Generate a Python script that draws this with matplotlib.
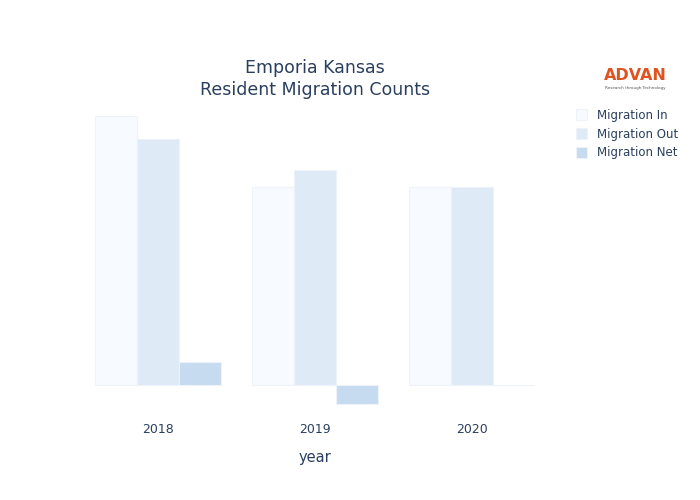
import matplotlib
matplotlib.use("Agg")
import matplotlib.pyplot as plt
import numpy as np

years = ["2018", "2019", "2020"]
migration_in = [269, 198, 198]
migration_out = [246, 215, 198]
migration_net = [23, -19, 0]

series = [
    ("Migration In", migration_in, "#f7fbff"),
    ("Migration Out", migration_out, "#deebf7"),
    ("Migration Net", migration_net, "#c6dbef"),
]

fig = plt.figure(figsize=(7, 5), dpi=100)
ax = fig.add_axes([95 / 700, 80 / 500, 440 / 700, 320 / 500])

x = np.arange(len(years))
w = 0.8 / 3
for i, (name, vals, col) in enumerate(series):
    ax.bar(x + (i - 1) * w, vals, width=w, color=col, edgecolor="#eef3fa",
           linewidth=0.8, label=name)

ax.set_xlim(-0.4, 2.4)
ax.set_ylim(-35, 285)
ax.set_xticks(x)
ax.set_xticklabels(years, fontsize=9, color="#2a3f5f")
ax.tick_params(axis="x", length=0, pad=2)
ax.set_yticks([])
for s in ax.spines.values():
    s.set_visible(False)
ax.set_xlabel("year", fontsize=10.5, color="#2a3f5f", labelpad=10)

fig.text(315 / 700, 1 - 68 / 500, "Emporia Kansas", ha="center", va="center",
         fontsize=12.5, color="#2a3f5f")
fig.text(315 / 700, 1 - 90 / 500, "Resident Migration Counts", ha="center",
         va="center", fontsize=12.5, color="#2a3f5f")

# logo
fig.text(635 / 700, 1 - 76 / 500, "ADVAN", ha="center", va="center",
         fontsize=11.5, fontweight="bold", color="#e0531f")
fig.text(635 / 700, 1 - 88 / 500, "Research through Technology", ha="center",
         va="center", fontsize=3, color="#555555")

leg = fig.legend(loc="upper left", bbox_to_anchor=(565 / 700, 1 - 98 / 500),
                 frameon=False, fontsize=8.5, handlelength=1.0, handleheight=1.0,
                 labelspacing=0.5)
for t in leg.get_texts():
    t.set_color("#2a3f5f")

fig.savefig("out.png", dpi=100)
